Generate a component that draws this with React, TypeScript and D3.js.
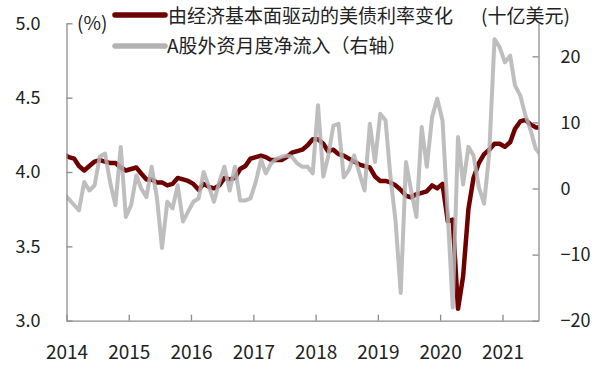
import React, { useEffect, useRef } from "react";
import * as d3 from "d3";

// monthly values, Dec 2013 .. Aug 2021 (first and last are clipped by the axes)
const yieldChange = [
  4.12, 4.1, 4.09, 4.04, 4.01, 4.04, 4.07, 4.08, 4.07, 4.06, 4.06, 4.03, 4.01,
  4.02, 4.03, 3.99, 3.95, 3.95, 3.93, 3.93, 3.91, 3.92, 3.96, 3.95, 3.94,
  3.92, 3.88, 3.92, 3.9, 3.89, 3.91, 3.96, 3.95, 3.96, 4.02, 4.04, 4.09,
  4.1, 4.11, 4.1, 4.08, 4.08, 4.08, 4.1, 4.13, 4.14, 4.15, 4.18, 4.22,
  4.22, 4.19, 4.14, 4.15, 4.12, 4.11, 4.09, 4.07, 4.05, 4.04, 4.03, 3.97,
  3.94, 3.94, 3.93, 3.91, 3.88, 3.84, 3.83, 3.85, 3.86, 3.87, 3.91, 3.89,
  3.92, 3.67, 3.68, 3.08, 3.3, 3.75, 3.96, 4.06, 4.12, 4.15, 4.19, 4.19,
  4.17, 4.2, 4.29, 4.34, 4.35, 4.32, 4.3, 4.3,
];

const foreignFlow = [
  -0.8, -1.6, -2.5, -3.3, 1.0, -0.3, 0.5, 4.8, 5.3, 0.8, -2.5, 6.3, -4.3,
  -2.5, 2.0, 0.0, -1.3, 3.3, -1.3, -9.0, -2.0, -3.0, 0.5, -5.0, -3.5,
  -2.0, -1.5, 2.5, 0.3, -2.0, 1.0, 3.3, -0.3, 3.3, -1.8, -1.8, -1.5,
  1.0, 4.4, 2.3, 3.8, 4.5, 4.8, 5.0, 4.8, 3.8, 3.3, 3.3, 2.3,
  12.6, 1.8, 4.8, 9.5, 9.8, 1.7, 2.8, 5.0, 2.3, -0.3, 9.8, 4.0,
  11.3, 10.3, 2.0, -5.0, -15.8, 4.0, -0.3, -4.3, 9.3, 3.3, 10.8, 13.6,
  10.3, -4.0, -18.0, 7.8, 0.6, 6.3, 5.0, 0.2, -2.3, 5.3, 22.6, 21.4,
  19.1, 20.1, 15.6, 14.1, 11.1, 8.8, 6.0, 5.0,
];

const months = yieldChange.map((_, i) => new Date(Date.UTC(2013, 11 + i, 15)));

const yearTicks = [2014, 2015, 2016, 2017, 2018, 2019, 2020, 2021];
const leftTicks = [3.0, 3.5, 4.0, 4.5, 5.0];
const rightTicks = [-20, -10, 0, 10, 20];

const seriesNames = ["由经济基本面驱动的美债利率变化", "A股外资月度净流入（右轴）"];
const leftUnit = "(%)";
const rightUnit = "(十亿美元)";

const width = 599;
const height = 373;
const plot = { left: 66.5, right: 538.5, top: 23.3, bottom: 320.7 };
const red = "#6e0000";
const grey = "#b3b3b3";
const axisColor = "#8c8c8c";
const font = "'Noto Sans CJK SC', 'Noto Sans', sans-serif";

const App: React.FC = () => {
  const svgRef = useRef<SVGSVGElement | null>(null);

  useEffect(() => {
    if (!svgRef.current) return;
    const svg = d3.select(svgRef.current);

    const x = d3
      .scaleUtc()
      .domain([new Date(Date.UTC(2014, 0, 1)), new Date(Date.UTC(2021, 6, 31))])
      .range([plot.left, plot.right]);
    const yLeft = d3.scaleLinear().domain([3, 5]).range([plot.bottom, plot.top]);
    const yRight = d3.scaleLinear().domain([-20, 25]).range([plot.bottom, plot.top]);

    const styleAxis = (g: d3.Selection<SVGGElement, unknown, null, undefined>) => {
      g.attr("font-family", font).attr("font-size", 18);
      g.selectAll("path, line").attr("stroke", axisColor).attr("stroke-width", 1.3);
      g.selectAll("text").attr("fill", "#222");
    };

    svg
      .select<SVGGElement>(".x-axis")
      .attr("transform", `translate(0,${plot.bottom})`)
      .call(
        d3
          .axisBottom(x)
          .tickValues(yearTicks.map((y) => new Date(Date.UTC(y, 0, 1))))
          .tickFormat((d) => String((d as Date).getUTCFullYear()))
          .tickSizeInner(-6)
          .tickSizeOuter(0)
          .tickPadding(25)
      )
      .call(styleAxis)
      .call((g) => g.selectAll("text").attr("font-size", 19));

    svg
      .select<SVGGElement>(".y-left")
      .attr("transform", `translate(${plot.left},0)`)
      .call(
        d3
          .axisLeft(yLeft)
          .tickValues(leftTicks)
          .tickFormat(d3.format(".1f"))
          .tickSizeInner(-6)
          .tickSizeOuter(0)
          .tickPadding(26)
      )
      .call(styleAxis);

    svg
      .select<SVGGElement>(".y-right")
      .attr("transform", `translate(${plot.right},0)`)
      .call(
        d3
          .axisRight(yRight)
          .tickValues(rightTicks)
          .tickSizeInner(-6)
          .tickSizeOuter(0)
          .tickPadding(22)
      )
      .call(styleAxis);

    const redLine = d3
      .line<number>()
      .x((_, i) => x(months[i]))
      .y((d) => yLeft(d));
    const greyLine = d3
      .line<number>()
      .x((_, i) => x(months[i]))
      .y((d) => yRight(d));

    svg
      .select(".lines")
      .selectAll("path")
      .data([
        { d: redLine(yieldChange), color: red, w: 4.5, op: 1 },
        { d: greyLine(foreignFlow), color: grey, w: 4, op: 0.85 },
      ])
      .join("path")
      .attr("d", (s) => s.d as string)
      .attr("fill", "none")
      .attr("stroke", (s) => s.color)
      .attr("stroke-width", (s) => s.w)
      .attr("stroke-opacity", (s) => s.op)
      .attr("stroke-linejoin", "round");
  }, []);

  return (
    <svg
      ref={svgRef}
      width={width}
      height={height}
      style={{ position: "absolute", left: 0, top: 0, background: "#fff" }}
      fontFamily={font}
    >
      <defs>
        <clipPath id="plot-clip">
          <rect x={plot.left} y={0} width={plot.right - plot.left} height={plot.bottom} />
        </clipPath>
      </defs>
      <g className="lines" clipPath="url(#plot-clip)" />
      <g className="x-axis" />
      <g className="y-left" />
      <g className="y-right" />
      <text x={77} y={23} dy="0.35em" fontSize={19} fill="#222">
        {leftUnit}
      </text>
      <text x={481} y={16.5} dy="0.35em" fontSize={19} fill="#222">
        {rightUnit}
      </text>
      <line x1={115} x2={165} y1={15} y2={15} stroke={red} strokeWidth={5.5} strokeLinecap="round" />
      <text x={168} y={16.5} dy="0.35em" fontSize={19} fill="#222">
        {seriesNames[0]}
      </text>
      <line x1={115} x2={165} y1={46} y2={46} stroke={grey} strokeWidth={5.5} strokeLinecap="round" />
      <text x={167} y={46.5} dy="0.35em" fontSize={19} fill="#222">
        {seriesNames[1]}
      </text>
    </svg>
  );
};

export default App;
